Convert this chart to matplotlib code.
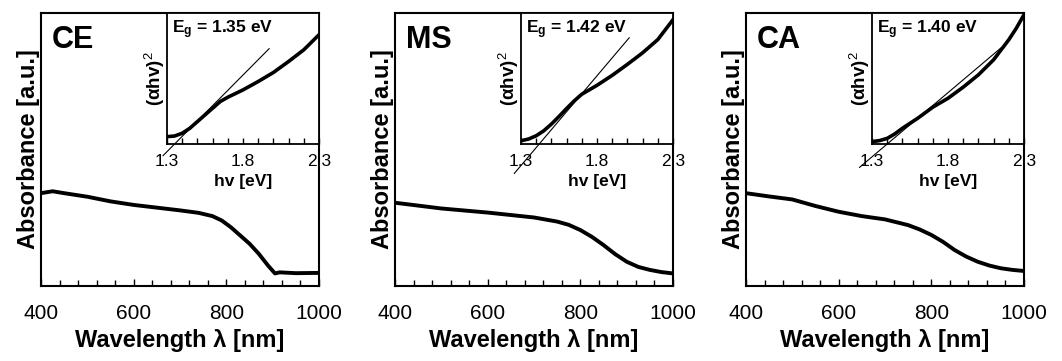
import numpy as np
import matplotlib
matplotlib.use("Agg")
import matplotlib.pyplot as plt
from matplotlib.ticker import MultipleLocator, FixedLocator

plt.rcParams['font.family'] = ['Liberation Sans', 'DejaVu Sans']
plt.rcParams['mathtext.fontset'] = 'custom'
plt.rcParams['mathtext.rm'] = 'Liberation Sans'
plt.rcParams['mathtext.bf'] = 'Liberation Sans:bold'

# --- data (absorbance in arbitrary units) ---
samples = ['CE', 'MS', 'CA']

wl_ce = [400, 425, 450, 500, 550, 600, 650, 700, 740, 770, 790, 810, 830, 850, 870, 890, 905, 915, 950, 1000]
abs_ce = [0.340, 0.347, 0.340, 0.327, 0.310, 0.297, 0.287, 0.277, 0.268, 0.256, 0.240, 0.215, 0.185,
          0.155, 0.118, 0.075, 0.046, 0.050, 0.047, 0.048]

wl_ms = [400, 500, 600, 700, 750, 775, 800, 825, 850, 875, 900, 925, 950, 975, 1000]
abs_ms = [0.305, 0.284, 0.269, 0.251, 0.236, 0.224, 0.205, 0.180, 0.150, 0.117, 0.089, 0.070, 0.059, 0.051, 0.046]

wl_ca = [400, 450, 500, 550, 600, 650, 700, 750, 775, 800, 825, 850, 875, 900, 925, 950, 975, 1000]
abs_ca = [0.340, 0.328, 0.317, 0.293, 0.272, 0.256, 0.244, 0.223, 0.207, 0.187, 0.162, 0.132, 0.108,
          0.089, 0.075, 0.065, 0.059, 0.055]

# Tauc plots (inset), (alpha h nu)^2 in arbitrary units
ev_ce = [1.30, 1.35, 1.40, 1.45, 1.50, 1.55, 1.60, 1.65, 1.70, 1.80, 1.90, 2.00, 2.10, 2.20, 2.30]
tauc_ce = [0.056, 0.061, 0.082, 0.120, 0.171, 0.222, 0.273, 0.324, 0.357, 0.413, 0.477, 0.546, 0.630, 0.719, 0.834]

ev_ms = [1.30, 1.35, 1.40, 1.45, 1.50, 1.55, 1.60, 1.65, 1.70, 1.80, 1.90, 2.00, 2.10, 2.20, 2.30]
tauc_ms = [0.025, 0.038, 0.063, 0.101, 0.152, 0.210, 0.271, 0.329, 0.380, 0.448, 0.524, 0.608, 0.696, 0.797, 0.949]

ev_ca = [1.30, 1.35, 1.40, 1.45, 1.50, 1.60, 1.70, 1.80, 1.90, 2.00, 2.10, 2.20, 2.25, 2.30]
tauc_ca = [0.018, 0.026, 0.043, 0.077, 0.120, 0.196, 0.281, 0.349, 0.434, 0.528, 0.643, 0.796, 0.885, 0.987]

# band gap fits: Eg, slope, start and end of drawn tangent
eg_values = [1.35, 1.42, 1.40]
fit_slopes = [1.17, 1.37, 0.98]
fit_start = [1.274, 1.256, 1.218]
fit_end = [1.972, 2.012, 2.150]

wl_data = [wl_ce, wl_ms, wl_ca]
abs_data = [abs_ce, abs_ms, abs_ca]
ev_data = [ev_ce, ev_ms, ev_ca]
tauc_data = [tauc_ce, tauc_ms, tauc_ca]

W, H = 1062, 361
fig = plt.figure(figsize=(W / 100, H / 100), dpi=100)

main_left = [41, 395, 746]
inset_left = [167, 521, 872]
ax_w, ax_top, ax_bot = 278, 13, 286
ins_bot = 144


def px_rect(left, right, top, bottom):
    return [left / W, 1 - bottom / H, (right - left) / W, (bottom - top) / H]


for i, name in enumerate(samples):
    ax = fig.add_axes(px_rect(main_left[i], main_left[i] + ax_w, ax_top, ax_bot))
    ax.plot(wl_data[i], abs_data[i], color='black', lw=2.8, solid_joinstyle='round')
    ax.set_xlim(400, 1000)
    ax.set_ylim(0, 1)
    ax.xaxis.set_major_locator(FixedLocator([400, 600, 800, 1000]))
    ax.xaxis.set_minor_locator(MultipleLocator(40))
    ax.tick_params(axis='x', which='both', direction='in', labelsize=15, pad=13)
    ax.tick_params(axis='x', which='major', length=5, width=1)
    ax.tick_params(axis='x', which='minor', length=4, width=1)
    ax.set_yticks([])
    for s in ax.spines.values():
        s.set_linewidth(1.5)
    ax.set_xlabel('Wavelength λ [nm]', fontsize=17, fontweight='bold', labelpad=4)
    ax.set_ylabel('Absorbance [a.u.]', fontsize=17, fontweight='bold', labelpad=1)
    ax.text(0.04, 0.955, name, transform=ax.transAxes, fontsize=22, fontweight='bold',
            ha='left', va='top')

    # inset Tauc plot
    ins = fig.add_axes(px_rect(inset_left[i], main_left[i] + ax_w, ax_top, ins_bot))
    ins.plot(ev_data[i], tauc_data[i], color='black', lw=2.6, solid_joinstyle='round')
    xs = np.array([fit_start[i], fit_end[i]])
    ins.plot(xs, fit_slopes[i] * (xs - eg_values[i]), color='black', lw=0.8, clip_on=False)
    ins.set_xlim(1.3, 2.3)
    ins.set_ylim(0, 1)
    ins.xaxis.set_major_locator(FixedLocator([1.3, 1.8, 2.3]))
    ins.xaxis.set_minor_locator(MultipleLocator(0.1))
    ins.set_xticklabels(['1.3', '1.8', '2.3'])
    ins.tick_params(axis='x', which='both', direction='in', labelsize=12.5, pad=7)
    ins.tick_params(axis='x', which='major', length=4, width=1)
    ins.tick_params(axis='x', which='minor', length=4, width=1)
    ins.set_yticks([])
    for s in ins.spines.values():
        s.set_linewidth(1.3)
    ins.set_xlabel('hv [eV]', fontsize=12.5, fontweight='bold', labelpad=4)
    ins.set_ylabel('(αhv)$^2$', fontsize=13.5, fontweight='bold', labelpad=0)
    ins.text(0.03, 0.96, r'$\mathbf{E_g}$ = %.2f eV' % eg_values[i], transform=ins.transAxes,
             fontsize=12.5, fontweight='bold', ha='left', va='top')

fig.savefig('out.png', dpi=100)
